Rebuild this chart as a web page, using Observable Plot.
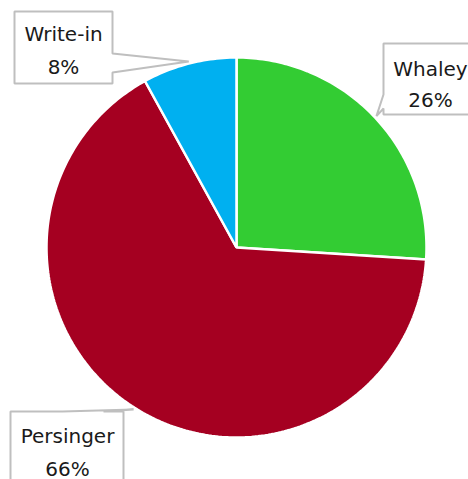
<!DOCTYPE html>
<html>
<head>
<meta charset="utf-8">
<script src="https://cdn.jsdelivr.net/npm/d3@7"></script>
<script src="https://cdn.jsdelivr.net/npm/@observablehq/plot@0.6"></script>
<style>
  html, body { margin: 0; padding: 0; background: #fff; }
</style>
</head>
<body>
<div id="chart"></div>
<script>
// ---- data ----
const names = ["Whaley", "Persinger", "Write-in"];
const values = [26, 66, 8];
const pctLabels = ["26%", "66%", "8%"];
const colors = ["#33CC33", "#A50021", "#00B0F0"];

// ---- layout (pixel-like units of the identity scales) ----
const W = 468, H = 479;
const cx = 236, cy = 247, R = 190, tipR = 192;
// callout boxes: [x0, x1, y0, y1], side of the pointer and its base span
const boxes = {
  "Whaley":    {x0: 383, x1: 492, y0: 43,  y1: 114, side: "left",  b0: 94,  b1: 108, cx: 430, l1: 75,  l2: 106},
  "Persinger": {x0: 10,  x1: 123, y0: 411, y1: 495, side: "top",   b0: 62,  b1: 103, cx: 67,  l1: 442, l2: 475},
  "Write-in":  {x0: 14,  x1: 112, y0: 11,  y1: 83,  side: "right", b0: 53,  b1: 72,  cx: 63,  l1: 40,  l2: 73}
};

const table = names.map((n, i) => ({name: n, value: values[i], pct: pctLabels[i], color: colors[i]}));
const arcs = d3.pie().sort(null).value(d => d.value)(table);

const pt = (a, r) => ({x: cx + r * Math.sin(a), y: cy - r * Math.cos(a)});

function slicePoints(arc) {
  const pts = [{x: cx, y: cy}];
  const n = Math.max(2, Math.ceil((arc.endAngle - arc.startAngle) / (Math.PI * 2) * 360));
  for (let k = 0; k <= n; k++) {
    const a = arc.startAngle + (arc.endAngle - arc.startAngle) * k / n;
    pts.push(pt(a, R));
  }
  return pts;
}

function calloutPoints(arc) {
  const b = boxes[arc.data.name];
  const mid = (arc.startAngle + arc.endAngle) / 2;
  const tip = pt(mid, tipR);
  if (b.side === "right") {
    return [{x: b.x0, y: b.y0}, {x: b.x1, y: b.y0}, {x: b.x1, y: b.b0}, tip,
            {x: b.x1, y: b.b1}, {x: b.x1, y: b.y1}, {x: b.x0, y: b.y1}];
  } else if (b.side === "left") {
    return [{x: b.x0, y: b.y0}, {x: b.x1, y: b.y0}, {x: b.x1, y: b.y1}, {x: b.x0, y: b.y1},
            {x: b.x0, y: b.b1}, tip, {x: b.x0, y: b.b0}];
  } else {
    return [{x: b.x0, y: b.y0}, {x: b.b0, y: b.y0}, tip, {x: b.b1, y: b.y0},
            {x: b.x1, y: b.y0}, {x: b.x1, y: b.y1}, {x: b.x0, y: b.y1}];
  }
}

const sliceMarks = arcs.map(arc =>
  Plot.line(slicePoints(arc), {
    x: "x", y: "y", curve: "linear-closed",
    fill: arc.data.color, stroke: "white", strokeWidth: 2.5, strokeLinejoin: "miter"
  })
);

const calloutMarks = arcs.map(arc =>
  Plot.line(calloutPoints(arc), {
    x: "x", y: "y", curve: "linear-closed",
    fill: "white", stroke: "#BFBFBF", strokeWidth: 2, strokeLinejoin: "miter"
  })
);

const labelRows = arcs.flatMap(arc => {
  const b = boxes[arc.data.name];
  return [
    {x: b.cx, y: b.l1, text: arc.data.name},
    {x: b.cx, y: b.l2, text: arc.data.pct}
  ];
});

const chart = Plot.plot({
  width: W,
  height: H,
  margin: 0,
  x: {domain: [0, W], range: [0, W], axis: null},
  y: {domain: [0, H], range: [0, H], axis: null},
  style: {background: "white", fontFamily: "DejaVu Sans, Verdana, sans-serif"},
  marks: [
    ...sliceMarks,
    ...calloutMarks,
    Plot.text(labelRows, {
      x: "x", y: "y", text: "text",
      fontSize: 20, fill: "#1a1a1a",
      textAnchor: "middle", lineAnchor: "bottom",
      fontFamily: "DejaVu Sans, Verdana, sans-serif"
    })
  ]
});

document.getElementById("chart").appendChild(chart);
</script>
</body>
</html>
